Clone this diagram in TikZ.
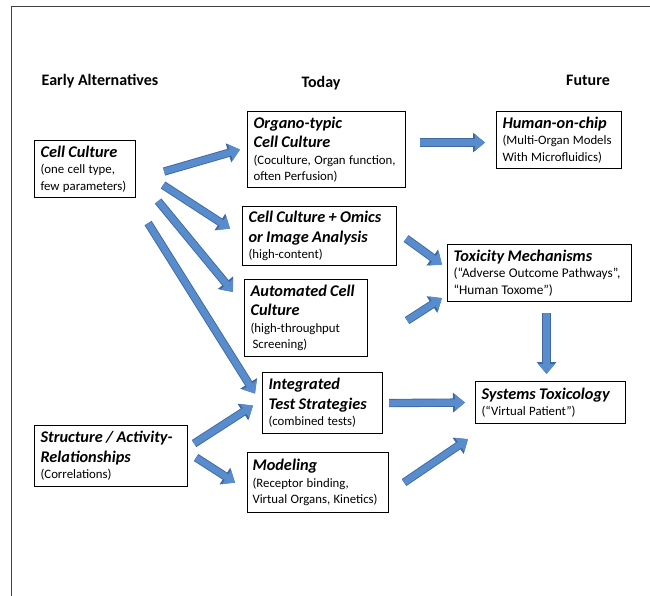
\documentclass[tikz,border=0pt]{standalone}
\usepackage{fontspec}
\setmainfont{Carlito}
\usetikzlibrary{arrows.meta,calc}
\newcommand\boxttl{\fontsize{16.3}{19.5}\selectfont\bfseries\itshape}
\newcommand\boxbdy{\fontsize{12.8}{16.5}\selectfont}
\newcommand\boxbdyl{\fontsize{13.3}{16.8}\selectfont}
\newcommand\hdr{\fontsize{16}{19}\selectfont\bfseries}
\definecolor{arrblue}{RGB}{88,140,204}
\definecolor{arredge}{RGB}{62,105,160}
\tikzset{
  tbox/.style={draw=black, line width=1.1pt, anchor=north west, align=left,
    inner xsep=6pt, inner ysep=2pt, fill=white},
  barrow/.style={arrblue, line width=6.5pt, -{Triangle[width=16pt,length=10pt]},
    preaction={draw=arredge, line width=8.3pt, -{Triangle[width=19pt,length=12pt]}}},
  header/.style={font=\hdr, anchor=base}
}
\begin{document}
\begin{tikzpicture}[x=1pt,y=-1pt]
\useasboundingbox (0,0) rectangle (650,596);
\draw[line width=1pt, black!75] (11,596) -- (11,7) -- (650,7);

\node[header] (h1) at (100,86) {Early Alternatives};
\node[header] (h2) at (321,88) {Today};
\node[header] (h3) at (588,86) {Future};

\node[tbox, text width=89pt, minimum height=57pt] (cc) at (34,140)
  {{\boxttl Cell Culture\par}{\boxbdy (one cell type,\\ few parameters)\par}};
\node[tbox, text width=146pt, minimum height=76pt] (org) at (247,111)
  {{\boxttl Organo-typic\\ Cell Culture\par}{\boxbdy (Coculture, Organ function,\\ often Perfusion)\par}};
\node[tbox, text width=113pt, minimum height=57pt] (hoc) at (496,111)
  {{\boxttl Human-on-chip\par}{\boxbdy (Multi-Organ Models\\ With Microfluidics)\par}};
\node[tbox, text width=142pt, minimum height=59pt] (omics) at (242,206)
  {{\boxttl Cell Culture + Omics\\ or Image Analysis\par}{\boxbdy (high-content)\par}};
\node[tbox, text width=111pt, minimum height=77pt] (auto) at (244,279)
  {{\boxttl Automated Cell\\ Culture\par}{\boxbdy (high-throughput\\ \hspace*{2pt}Screening)\par}};
\node[tbox, text width=172pt, minimum height=57pt] (tox) at (447,244)
  {{\boxttl Toxicity Mechanisms\par}{\boxbdyl (“Adverse Outcome Pathways”,\\ “Human Toxome”)\par}};
\node[tbox, text width=108pt, minimum height=61pt] (its) at (262,372)
  {{\boxttl Integrated\\ Test Strategies\par}{\boxbdy (combined tests)\par}};
\node[tbox, text width=138pt, minimum height=42pt] (sys) at (475,381)
  {{\boxttl Systems Toxicology\par}{\boxbdy (“Virtual Patient”)\par}};
\node[tbox, text width=141pt, minimum height=61pt] (sar) at (34,425)
  {{\boxttl Structure / Activity-\\ Relationships\par}{\boxbdy (Correlations)\par}};
\node[tbox, text width=131pt, inner xsep=5pt, minimum height=60pt] (mod) at (247,452)
  {{\boxttl Modeling\par}{\boxbdy (Receptor binding,\\ Virtual Organs, Kinetics)\par}};

\draw[barrow] ([shift={(28,2.5)}]cc.east) -- ([shift={(-7,0)}]org.west);
\draw[barrow] ([shift={(27,16)}]cc.east) -- ([shift={(-12,-7.5)}]omics.west);
\draw[barrow] ([shift={(22,3)}]cc.south east) -- ([shift={(-11,13)}]auto.north west);
\draw[barrow] ([shift={(12,25)}]cc.south east) -- ([shift={(-7,-9.5)}]its.west);
\draw[barrow] ([shift={(14,-7)}]org.east) -- ([shift={(-11,2.5)}]hoc.west);
\draw[barrow] ([shift={(9,2.5)}]omics.east) -- ([shift={(-5,-8.5)}]tox.west);
\draw[barrow] ([shift={(39,2.5)}]auto.east) -- ([shift={(-5,-4)}]tox.south west);
\draw[barrow] ([shift={(7,11)}]tox.south) -- ([shift={(-4,-7)}]sys.north);
\draw[barrow] ([shift={(6,0)}]its.east) -- ([shift={(-10,0)}]sys.west);
\draw[barrow] ([shift={(6,-12.5)}]sar.east) -- ([shift={(-9,2.5)}]its.west);
\draw[barrow] ([shift={(8,1.5)}]sar.east) -- ([shift={(-12,0)}]mod.west);
\draw[barrow] ([shift={(15,0)}]mod.east) -- ([shift={(-7,15)}]sys.south west);
\end{tikzpicture}
\end{document}
